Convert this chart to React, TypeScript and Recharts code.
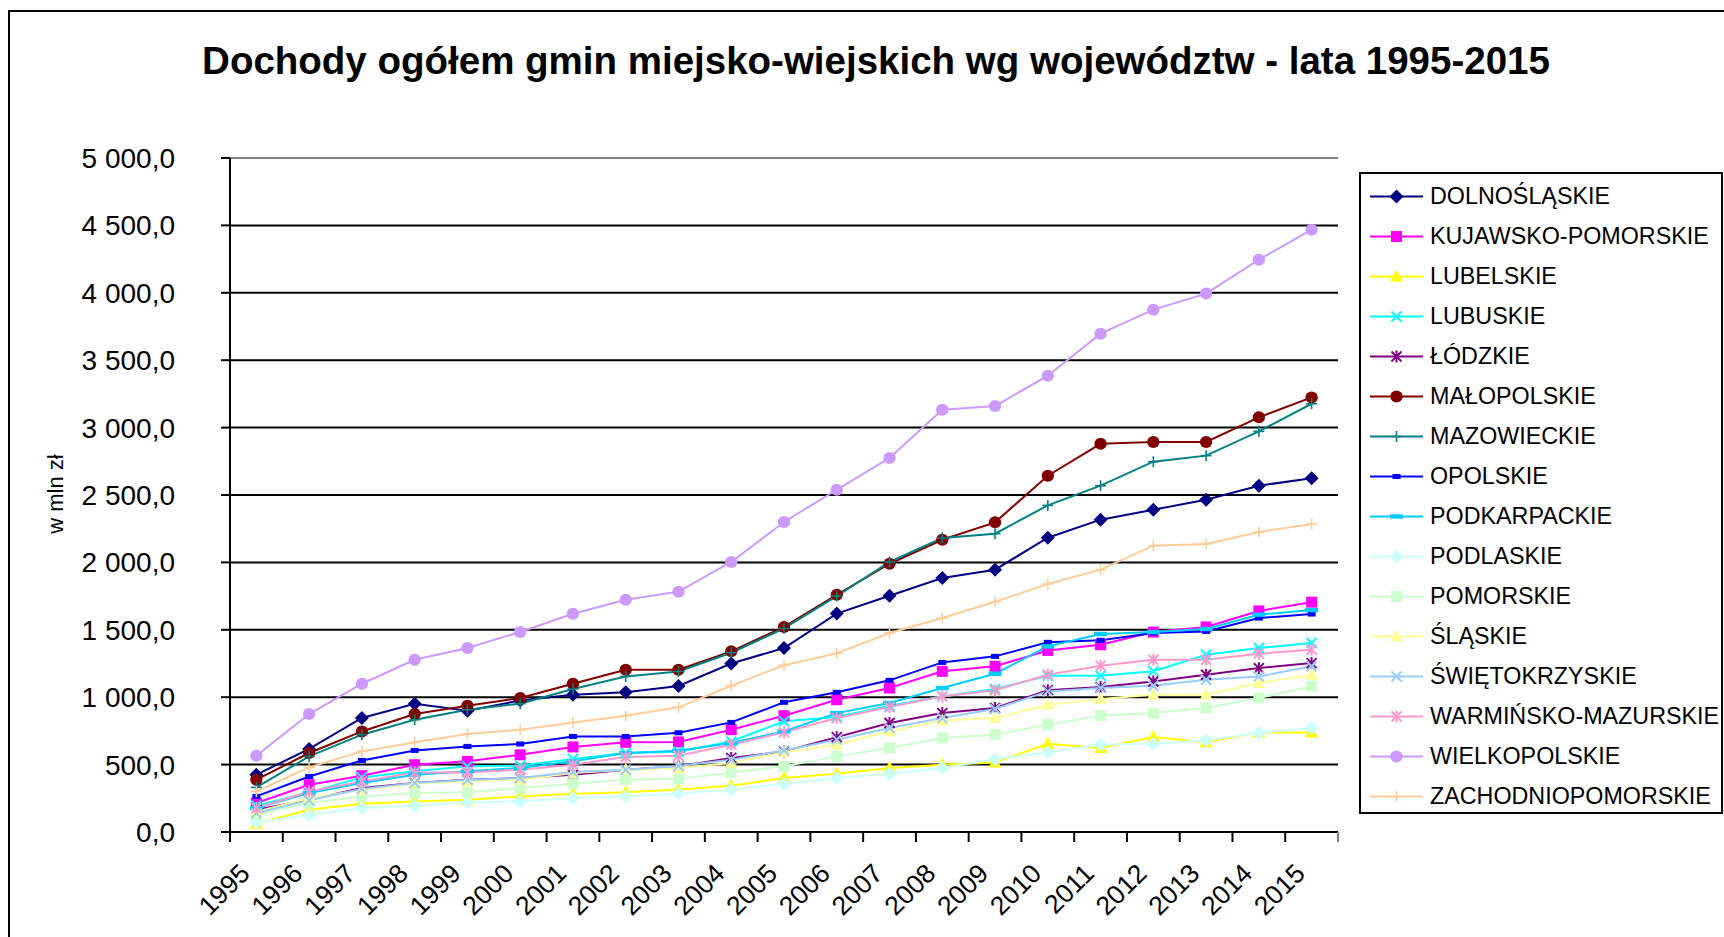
import React from 'react';
import { LineChart, Line, XAxis, YAxis, CartesianGrid, Legend, ReferenceLine } from 'recharts';

const YEARS = ['1995','1996','1997','1998','1999','2000','2001','2002','2003','2004','2005','2006','2007','2008','2009','2010','2011','2012','2013','2014','2015'];

const DOLNOSLASKIE = [425, 616, 846, 952, 900, 976, 1019, 1036, 1083, 1250, 1365, 1620, 1753, 1884, 1946, 2183, 2317, 2391, 2465, 2569, 2624];
const KUJAWSKO_POMORSKIE = [215, 351, 418, 499, 524, 573, 631, 665, 668, 759, 863, 981, 1068, 1192, 1229, 1347, 1389, 1483, 1521, 1640, 1705];
const LUBELSKIE = [62, 165, 210, 227, 240, 264, 284, 294, 316, 343, 400, 432, 474, 499, 516, 655, 623, 704, 665, 739, 739];
const LUBUSKIE = [195, 294, 405, 450, 487, 492, 542, 586, 595, 672, 821, 853, 937, 1006, 1061, 1159, 1159, 1192, 1315, 1365, 1402];
const LODZKIE = [165, 240, 326, 364, 388, 400, 425, 462, 487, 549, 598, 704, 808, 882, 920, 1051, 1075, 1117, 1167, 1216, 1253];
const MALOPOLSKIE = [388, 586, 746, 875, 937, 994, 1100, 1204, 1204, 1340, 1521, 1760, 1990, 2168, 2297, 2643, 2880, 2893, 2893, 3076, 3224];
const MAZOWIECKIE = [331, 561, 722, 833, 907, 952, 1061, 1154, 1191, 1330, 1510, 1750, 2003, 2181, 2213, 2423, 2569, 2747, 2792, 2972, 3177];
const OPOLSKIE = [264, 412, 531, 605, 635, 653, 709, 709, 736, 813, 962, 1036, 1125, 1258, 1303, 1407, 1422, 1476, 1488, 1587, 1617];
const PODKARPACKIE = [178, 289, 364, 425, 450, 475, 524, 586, 602, 660, 746, 882, 957, 1068, 1174, 1377, 1469, 1483, 1506, 1612, 1646];
const PODLASKIE = [71, 128, 178, 195, 220, 227, 252, 264, 285, 314, 358, 400, 432, 474, 541, 591, 648, 655, 680, 734, 771];
const POMORSKIE = [128, 215, 264, 289, 294, 326, 358, 388, 395, 442, 487, 561, 623, 697, 722, 796, 863, 882, 920, 994, 1080];
const SLASKIE = [150, 250, 314, 360, 375, 388, 437, 462, 474, 512, 591, 648, 746, 828, 845, 944, 986, 1018, 1018, 1105, 1167];
const SWIETOKRZYSKIE = [141, 235, 320, 364, 385, 400, 445, 462, 490, 536, 605, 685, 771, 845, 912, 1043, 1068, 1085, 1130, 1154, 1229];
const WARMINSKO_MAZURSKIE = [178, 301, 375, 442, 442, 462, 499, 556, 566, 648, 739, 845, 927, 1006, 1051, 1167, 1234, 1278, 1278, 1323, 1352];
const WIELKOPOLSKIE = [566, 875, 1100, 1278, 1365, 1484, 1619, 1723, 1783, 2003, 2300, 2539, 2775, 3133, 3160, 3385, 3697, 3875, 3994, 4246, 4468];
const ZACHODNIOPOMORSKIE = [301, 479, 598, 665, 727, 759, 813, 863, 925, 1085, 1237, 1325, 1476, 1587, 1708, 1840, 1946, 2124, 2136, 2225, 2285];

const SERIES_NAMES = ['DOLNOŚLĄSKIE','KUJAWSKO-POMORSKIE','LUBELSKIE','LUBUSKIE','ŁÓDZKIE','MAŁOPOLSKIE','MAZOWIECKIE','OPOLSKIE','PODKARPACKIE','PODLASKIE','POMORSKIE','ŚLĄSKIE','ŚWIĘTOKRZYSKIE','WARMIŃSKO-MAZURSKIE','WIELKOPOLSKIE','ZACHODNIOPOMORSKIE'];
const SERIES_VALUES = [DOLNOSLASKIE, KUJAWSKO_POMORSKIE, LUBELSKIE, LUBUSKIE, LODZKIE, MALOPOLSKIE, MAZOWIECKIE, OPOLSKIE, PODKARPACKIE, PODLASKIE, POMORSKIE, SLASKIE, SWIETOKRZYSKIE, WARMINSKO_MAZURSKIE, WIELKOPOLSKIE, ZACHODNIOPOMORSKIE];
const SERIES_COLORS = ['#000080','#FF00FF','#FFFF00','#00FFFF','#800080','#800000','#008080','#0000FF','#00CCFF','#CCFFFF','#CCFFCC','#FFFF99','#99CCFF','#FF99CC','#CC99FF','#FFCC99'];
const SERIES_SHAPES = ['diamond','square','triangle','x','star','circle','plus','shortdash','longdash','diamond','square','triangle','x','star','circle','plus'];

const Y_TICKS = [0, 500, 1000, 1500, 2000, 2500, 3000, 3500, 4000, 4500, 5000];

const TITLE = 'Dochody ogółem gmin miejsko-wiejskich wg województw - lata 1995-2015';
const Y_LABEL = 'w mln zł';

const data = YEARS.map((year, i) => {
  const row: Record<string, string | number> = { year };
  SERIES_VALUES.forEach((arr, s) => { row['s' + s] = arr[i]; });
  return row;
});

const FONT = '"Liberation Sans", Arial, sans-serif';
const PLOT_LEFT = 230;
const PLOT_RIGHT = 1338;
const PLOT_TOP = 158;
const PLOT_BOTTOM = 832;
const HALF_BAND = (PLOT_RIGHT - PLOT_LEFT) / YEARS.length / 2;

function fmt(v: number) {
  const [int, dec] = v.toFixed(1).split('.');
  const withSep = int.replace(/\B(?=(\d{3})+(?!\d))/g, ' ');
  return withSep + ',' + dec;
}

function Marker({ shape, color, cx, cy }: { shape: string; color: string; cx: number; cy: number }) {
  switch (shape) {
    case 'diamond':
      return <path d={`M${cx},${cy - 7} L${cx + 7},${cy} L${cx},${cy + 7} L${cx - 7},${cy} Z`} fill={color} />;
    case 'square':
      return <rect x={cx - 5.5} y={cy - 5.5} width={11} height={11} fill={color} />;
    case 'triangle':
      return <path d={`M${cx},${cy - 7} L${cx + 6.5},${cy + 5} L${cx - 6.5},${cy + 5} Z`} fill={color} />;
    case 'x':
      return (
        <g stroke={color} strokeWidth={2}>
          <line x1={cx - 5} y1={cy - 5} x2={cx + 5} y2={cy + 5} />
          <line x1={cx - 5} y1={cy + 5} x2={cx + 5} y2={cy - 5} />
        </g>
      );
    case 'star':
      return (
        <g stroke={color} strokeWidth={2}>
          <line x1={cx - 5} y1={cy - 5} x2={cx + 5} y2={cy + 5} />
          <line x1={cx - 5} y1={cy + 5} x2={cx + 5} y2={cy - 5} />
          <line x1={cx} y1={cy - 6} x2={cx} y2={cy + 6} />
        </g>
      );
    case 'circle':
      return <ellipse cx={cx} cy={cy} rx={6.2} ry={6} fill={color} />;
    case 'plus':
      return (
        <g stroke={color} strokeWidth={1.6}>
          <line x1={cx - 5.5} y1={cy} x2={cx + 5.5} y2={cy} />
          <line x1={cx} y1={cy - 5.5} x2={cx} y2={cy + 5.5} />
        </g>
      );
    case 'shortdash':
      return <rect x={cx - 4} y={cy - 2.5} width={8} height={5} fill={color} />;
    case 'longdash':
      return <rect x={cx - 6.5} y={cy - 2.2} width={13} height={4.4} fill={color} />;
    default:
      return null;
  }
}

function XTick(props: any) {
  const { x, y, payload, index } = props;
  const tx = x - 5;
  const ty = y + 43;
  const last = index === YEARS.length - 1;
  return (
    <g>
      <line x1={x - HALF_BAND} x2={x - HALF_BAND} y1={y} y2={y + 10} stroke="#000" strokeWidth={2} />
      {last && <line x1={x + HALF_BAND} x2={x + HALF_BAND} y1={y} y2={y + 10} stroke="#808080" strokeWidth={2} />}
      <text x={tx} y={ty} transform={`rotate(-45 ${tx} ${ty})`} textAnchor="end" fontSize={26.5} fill="#000" fontFamily={FONT}>
        {payload.value}
      </text>
    </g>
  );
}

function LegendBox() {
  return (
    <svg width={365} height={643} style={{ display: 'block' }}>
      <rect x={1} y={1} width={362} height={640} fill="#fff" stroke="#000" strokeWidth={2} />
      {SERIES_NAMES.map((name, i) => {
        const cy = 24.5 + 40 * i;
        return (
          <g key={name}>
            <line x1={11} x2={64} y1={cy} y2={cy} stroke={SERIES_COLORS[i]} strokeWidth={2} />
            <Marker shape={SERIES_SHAPES[i]} color={SERIES_COLORS[i]} cx={37.5} cy={cy} />
            <text x={71} y={cy + 7.5} fontSize={23.3} fill="#000" fontFamily={FONT}>{name}</text>
          </g>
        );
      })}
    </svg>
  );
}

export default function App() {
  return (
    <div style={{ position: 'fixed', left: 0, top: 0, width: 1724, height: 937, overflow: 'hidden', background: '#fff', fontFamily: FONT }}>
      <div style={{ position: 'absolute', left: 8, top: 10, width: 1800, height: 1000, border: '2px solid #000' }} />
      <div style={{ position: 'absolute', left: 0, top: 41.5, width: 1752, textAlign: 'center', fontSize: 38.5, lineHeight: '38.5px', fontWeight: 'bold', color: '#000', whiteSpace: 'nowrap' }}>
        {TITLE}
      </div>
      <div style={{ position: 'absolute', left: 56, top: 494, transform: 'translate(-50%, -50%) rotate(-90deg)', fontSize: 22, lineHeight: '22px', whiteSpace: 'nowrap', color: '#000' }}>
        {Y_LABEL}
      </div>
      <div style={{ position: 'absolute', left: 0, top: 0 }}>
        <LineChart
          width={1724}
          height={937}
          data={data}
          margin={{ top: PLOT_TOP, right: 1724 - PLOT_RIGHT, bottom: 937 - PLOT_BOTTOM - 60, left: 0 }}
        >
          <CartesianGrid vertical={false} stroke="#000" strokeWidth={2} />
          <XAxis
            dataKey="year"
            interval={0}
            padding={{ left: HALF_BAND, right: HALF_BAND }}
            height={60}
            tickLine={false}
            tickSize={0}
            tickMargin={0}
            axisLine={{ stroke: '#000', strokeWidth: 2 }}
            tick={<XTick />}
          />
          <YAxis
            type="number"
            domain={[0, 5000]}
            ticks={Y_TICKS}
            interval={0}
            tickFormatter={fmt}
            width={PLOT_LEFT}
            tickSize={9}
            tickMargin={46}
            axisLine={{ stroke: '#000', strokeWidth: 2 }}
            tickLine={{ stroke: '#000', strokeWidth: 2 }}
            tick={{ fill: '#000', fontSize: 28, fontFamily: FONT }}
          />
          <YAxis
            yAxisId="right"
            orientation="right"
            width={0}
            domain={[0, 5000]}
            tick={false}
            tickLine={false}
            axisLine={{ stroke: '#808080', strokeWidth: 2 }}
          />
          <ReferenceLine y={5000} stroke="#808080" strokeWidth={2} />
          {SERIES_NAMES.map((name, s) => (
            <Line
              key={name}
              name={name}
              type="linear"
              dataKey={'s' + s}
              stroke={SERIES_COLORS[s]}
              strokeWidth={2}
              isAnimationActive={false}
              activeDot={false}
              dot={(p: any) => (
                <Marker key={`${name}-${p.index}`} shape={SERIES_SHAPES[s]} color={SERIES_COLORS[s]} cx={p.cx} cy={p.cy} />
              )}
            />
          ))}
          <Legend
            layout="horizontal"
            verticalAlign="middle"
            align="center"
            wrapperStyle={{ left: 1359, top: 172, width: 365, height: 643 }}
            content={() => <LegendBox />}
          />
        </LineChart>
      </div>
    </div>
  );
}
